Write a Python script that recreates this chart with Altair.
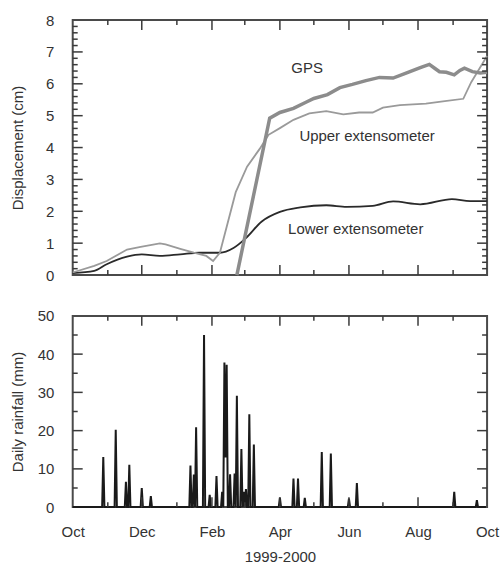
import altair as alt
import pandas as pd

FONT = "Liberation Sans"
TXT = "#333333"
FRAME = "#4a4a4a"
W, H1, H2 = 416, 256, 192

# ---------------- data ----------------
gps_dates = ["2000-02-23", "2000-03-23", "2000-04-01", "2000-04-13", "2000-04-24", "2000-05-01",
             "2000-05-13", "2000-05-24", "2000-06-04", "2000-06-16", "2000-06-28", "2000-07-10",
             "2000-07-22", "2000-08-03", "2000-08-11", "2000-08-16", "2000-08-20", "2000-08-26",
             "2000-09-02", "2000-09-07", "2000-09-11", "2000-09-18", "2000-09-25", "2000-10-01"]
gps_vals = [0.0, 4.92, 5.10, 5.23, 5.42, 5.54,
            5.66, 5.88, 5.98, 6.10, 6.20, 6.18,
            6.34, 6.51, 6.61, 6.48, 6.38, 6.36,
            6.28, 6.42, 6.49, 6.38, 6.34, 6.36]

upper_dates = ["1999-10-01", "1999-10-20", "1999-10-31", "1999-11-18", "1999-11-30", "1999-12-17",
               "1999-12-22", "2000-01-04", "2000-01-16", "2000-01-27", "2000-02-02", "2000-02-08",
               "2000-02-22", "2000-03-03", "2000-03-14", "2000-03-22", "2000-04-01", "2000-04-13",
               "2000-04-27", "2000-05-12", "2000-05-27", "2000-06-10", "2000-06-22", "2000-07-01",
               "2000-07-16", "2000-08-08", "2000-08-23", "2000-09-10", "2000-09-17", "2000-10-01"]
upper_vals = [0.08, 0.29, 0.44, 0.80, 0.88, 0.99,
              0.96, 0.82, 0.70, 0.60, 0.44, 0.70,
              2.60, 3.40, 3.95, 4.40, 4.61, 4.87,
              5.07, 5.14, 5.04, 5.10, 5.10, 5.25,
              5.33, 5.38, 5.45, 5.53, 6.05, 6.87]

lower_dates = ["1999-10-01", "1999-10-20", "1999-10-31", "1999-11-18", "1999-12-01", "1999-12-17",
               "2000-01-04", "2000-01-21", "2000-02-08", "2000-02-20", "2000-03-02", "2000-03-16",
               "2000-04-01", "2000-04-19", "2000-05-12", "2000-05-30", "2000-06-22", "2000-07-10",
               "2000-08-03", "2000-08-31", "2000-09-16", "2000-10-01"]
lower_vals = [0.06, 0.13, 0.34, 0.58, 0.65, 0.60,
              0.65, 0.70, 0.70, 0.85, 1.16, 1.68,
              1.98, 2.12, 2.19, 2.14, 2.17, 2.31,
              2.22, 2.38, 2.32, 2.32]

label_texts = ["GPS", "Upper extensometer", "Lower extensometer"]
label_dates = ["2000-04-25", "2000-06-17", "2000-06-07"]
label_vals = [6.48, 4.37, 1.45]

rain_dates = ["1999-10-28", "1999-11-08", "1999-11-17", "1999-11-20", "1999-12-01", "1999-12-09",
              "2000-01-13", "2000-01-16", "2000-01-18", "2000-01-25", "2000-01-30", "2000-02-05",
              "2000-02-10", "2000-02-12", "2000-02-13", "2000-02-14", "2000-02-17", "2000-02-21",
              "2000-02-23", "2000-02-27", "2000-02-29", "2000-03-02", "2000-03-05", "2000-03-09",
              "2000-04-01", "2000-04-13", "2000-04-17", "2000-04-23", "2000-05-08", "2000-05-16",
              "2000-06-01", "2000-06-08", "2000-09-02", "2000-09-22"]
rain_vals = [13.1, 20.2, 6.6, 11.1, 5.0, 2.9,
             10.9, 8.5, 20.9, 45.0, 3.2, 8.1,
             4.0, 37.8, 13.0, 37.2, 8.6, 8.8,
             29.1, 15.2, 4.0, 4.7, 24.3, 16.4,
             2.5, 7.5, 7.5, 2.4, 14.4, 14.0,
             2.2, 6.3, 4.0, 1.8]

x_major = ["1999-12-01", "2000-02-01", "2000-04-01", "2000-06-01", "2000-08-01"]
x_minor = ["1999-11-01", "2000-01-01", "2000-03-01", "2000-05-01", "2000-07-01", "2000-09-01"]
x_label_months = [(1999, 10), (1999, 12), (2000, 2), (2000, 4), (2000, 6), (2000, 8), (2000, 10)]

disp_major = [1, 2, 3, 4, 5, 6, 7]
disp_minor = [round(i * 0.2, 1) for i in range(1, 40) if i % 5 != 0]
rain_major = [10, 20, 30, 40]
rain_minor = [5, 15, 25, 35, 45]

# ---------------- frames ----------------
gps_df = pd.DataFrame({"date": gps_dates, "v": gps_vals})
upper_df = pd.DataFrame({"date": upper_dates, "v": upper_vals})
lower_df = pd.DataFrame({"date": lower_dates, "v": lower_vals})
lab_df = pd.DataFrame({"date": label_dates, "v": label_vals, "t": label_texts})

days = pd.date_range("1999-10-01", "2000-09-30", freq="D").strftime("%Y-%m-%d")
rain_map = dict(zip(rain_dates, rain_vals))
rain_df = pd.DataFrame({"date": list(days), "v": [rain_map.get(d, 0.0) for d in days]})

xscale = alt.Scale(type="utc", domain=[alt.DateTime(year=1999, month=10, date=1, utc=True),
                                       alt.DateTime(year=2000, month=10, date=1, utc=True)])
yscale1 = alt.Scale(domain=[0, 8], nice=False, zero=True)
yscale2 = alt.Scale(domain=[0, 50], nice=False, zero=True)

y_axis1 = alt.Axis(title="Displacement (cm)", values=list(range(0, 9)), labelPadding=19,
                   tickSize=0, titleX=-47, titleY=H1 / 2)
y_axis2 = alt.Axis(title="Daily rainfall (mm)", values=[0, 10, 20, 30, 40, 50], labelPadding=19,
                   tickSize=0, titleX=-47, titleY=H2 / 2)
x_axis2 = alt.Axis(title="1999-2000",
                   values=[alt.DateTime(year=y, month=m, date=1, utc=True) for y, m in x_label_months],
                   labelExpr="utcFormat(datum.value, '%b')", labelPadding=17, tickSize=0,
                   titlePadding=11, labelFlush=False, labelOverlap=False)


def tick_layers(H, ymaj, ymin, yscale, x_axis, y_axis):
    """Inward frame ticks on all four sides."""
    layers = []
    for vals, L in ((x_major, 10), (x_minor, 5)):
        d = pd.DataFrame({"date": vals})
        xe = alt.X("date:T", scale=xscale, axis=x_axis)
        layers.append(alt.Chart(d).mark_rule(color="#3a3a3a", strokeWidth=1.5).encode(
            x=xe, y=alt.value(H), y2=alt.value(H - L)))
        layers.append(alt.Chart(d).mark_rule(color="#3a3a3a", strokeWidth=1.5).encode(
            x=xe, y=alt.value(0), y2=alt.value(L)))
    for vals, L in ((ymaj, 10), (ymin, 5)):
        d = pd.DataFrame({"v": vals})
        ye = alt.Y("v:Q", scale=yscale, axis=y_axis)
        layers.append(alt.Chart(d).mark_rule(color="#3a3a3a", strokeWidth=1.5).encode(
            y=ye, x=alt.value(0), x2=alt.value(L)))
        layers.append(alt.Chart(d).mark_rule(color="#3a3a3a", strokeWidth=1.5).encode(
            y=ye, x=alt.value(W - L), x2=alt.value(W)))
    return layers


xe_top = alt.X("date:T", scale=xscale, axis=None)
ye_top = alt.Y("v:Q", scale=yscale1, axis=y_axis1)

lower = alt.Chart(lower_df).mark_line(color="#2a2a2a", strokeWidth=1.8, interpolate="monotone").encode(
    x=xe_top, y=ye_top)
upper = alt.Chart(upper_df).mark_line(color="#9a9a9a", strokeWidth=1.8).encode(x=xe_top, y=ye_top)
gps = alt.Chart(gps_df).mark_line(color="#8c8c8c", strokeWidth=3.5).encode(x=xe_top, y=ye_top)
labels = alt.Chart(lab_df).mark_text(font=FONT, fontSize=15, color=TXT, align="center",
                                     baseline="middle").encode(x=xe_top, y=ye_top, text="t:N")

top = alt.layer(lower, upper, gps, labels,
                *tick_layers(H1, disp_major, disp_minor, yscale1, None, y_axis1)).properties(
    width=W, height=H1)

rain = alt.Chart(rain_df).mark_line(color="#1a1a1a", strokeWidth=2).encode(
    x=alt.X("date:T", scale=xscale, axis=x_axis2),
    y=alt.Y("v:Q", scale=yscale2, axis=y_axis2))

bottom = alt.layer(rain, *tick_layers(H2, rain_major, rain_minor, yscale2, x_axis2, y_axis2)).properties(
    width=W, height=H2)

chart = alt.vconcat(top, bottom, spacing=41, bounds="flush").properties(
    padding={"left": 10, "top": 11, "right": 4, "bottom": 4}
).configure_view(
    stroke=FRAME, strokeWidth=2
).configure_axis(
    labelFont=FONT, labelFontSize=15, labelColor=TXT,
    titleFont=FONT, titleFontSize=15, titleFontWeight="normal", titleColor=TXT,
    grid=False, domain=False, ticks=False
)

chart.save("out.html", embed_options={"renderer": "svg", "actions": False})
